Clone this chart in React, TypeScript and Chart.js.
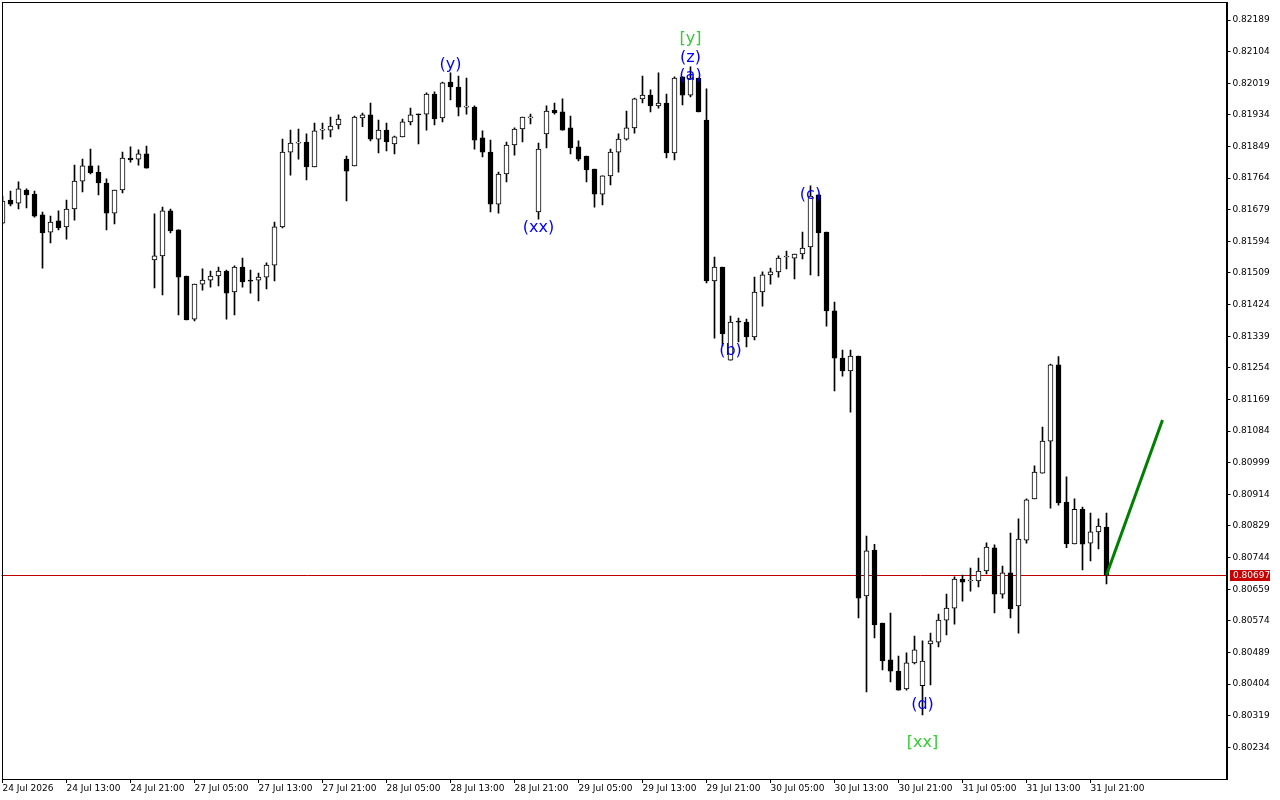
import React, { useEffect, useRef } from "react";
import { Chart, registerables } from "chart.js";

Chart.register(...registerables);

// Hourly candles, 24 Jul 2026 05:00 .. 31 Jul 2026 23:00 (weekend skipped)
const opens = [
  0.81643, 0.81705, 0.81697, 0.81732, 0.81721, 0.81665, 0.81619, 0.81649, 0.81633, 0.81681,
  0.81756, 0.81797, 0.81780, 0.81751, 0.81670, 0.81732, 0.81818, 0.81815, 0.81829, 0.81544,
  0.81555, 0.81676, 0.81625, 0.81501, 0.81385, 0.81479, 0.81490, 0.81501, 0.81514, 0.81458,
  0.81525, 0.81488, 0.81490, 0.81498, 0.81530, 0.81633, 0.81834, 0.81858, 0.81861, 0.81794,
  0.81893, 0.81893, 0.81907, 0.81815, 0.81797, 0.81926, 0.81934, 0.81869, 0.81893, 0.81856,
  0.81875, 0.81915, 0.81936, 0.81936, 0.81990, 0.81926, 0.82022, 0.82009, 0.81955, 0.81955,
  0.81872, 0.81834, 0.81694, 0.81775, 0.81853, 0.81896, 0.81926, 0.81673, 0.81883, 0.81947,
  0.81942, 0.81899, 0.81848, 0.81823, 0.81788, 0.81721, 0.81770, 0.81834, 0.81869, 0.81899,
  0.81977, 0.81987, 0.81958, 0.81966, 0.81832, 0.82036, 0.81987, 0.82033, 0.81920, 0.81488,
  0.81525, 0.81275, 0.81380, 0.81377, 0.81337, 0.81458, 0.81504, 0.81512, 0.81552, 0.81549,
  0.81560, 0.81579, 0.81719, 0.81619, 0.81407, 0.81280, 0.81246, 0.81286, 0.80641, 0.80764,
  0.80568, 0.80469, 0.80439, 0.80391, 0.80461, 0.80400, 0.80512, 0.80517, 0.80576, 0.80608,
  0.80686, 0.80681, 0.80681, 0.80708, 0.80770, 0.80646, 0.80703, 0.80614, 0.80791, 0.80902,
  0.80971, 0.81057, 0.81262, 0.80893, 0.80781, 0.80874, 0.80783, 0.80813, 0.80826,
];

const highs = [
  0.81716, 0.81729, 0.81754, 0.81735, 0.81729, 0.81673, 0.81662, 0.81676, 0.81705, 0.81799,
  0.81815, 0.81842, 0.81797, 0.81762, 0.81732, 0.81834, 0.81848, 0.81840, 0.81850, 0.81668,
  0.81686, 0.81681, 0.81625, 0.81501, 0.81479, 0.81520, 0.81514, 0.81525, 0.81517, 0.81528,
  0.81549, 0.81517, 0.81509, 0.81536, 0.81646, 0.81869, 0.81893, 0.81896, 0.81883, 0.81912,
  0.81912, 0.81928, 0.81934, 0.81823, 0.81931, 0.81939, 0.81966, 0.81920, 0.81912, 0.81877,
  0.81923, 0.81952, 0.81936, 0.81993, 0.81996, 0.82022, 0.82047, 0.82038, 0.82033, 0.81958,
  0.81891, 0.81866, 0.81780, 0.81861, 0.81899, 0.81928, 0.81936, 0.81858, 0.81958, 0.81966,
  0.81977, 0.81931, 0.81864, 0.81823, 0.81788, 0.81770, 0.81842, 0.81883, 0.81944, 0.81979,
  0.82038, 0.82001, 0.82047, 0.81990, 0.82036, 0.82036, 0.82063, 0.82033, 0.82004, 0.81552,
  0.81525, 0.81393, 0.81388, 0.81385, 0.81498, 0.81512, 0.81522, 0.81555, 0.81568, 0.81560,
  0.81619, 0.81743, 0.81719, 0.81619, 0.81431, 0.81302, 0.81302, 0.81286, 0.80802, 0.80780,
  0.80568, 0.80595, 0.80479, 0.80488, 0.80533, 0.80520, 0.80541, 0.80592, 0.80646, 0.80692,
  0.80697, 0.80716, 0.80743, 0.80784, 0.80778, 0.80721, 0.80810, 0.80848, 0.80902, 0.80991,
  0.81095, 0.81264, 0.81284, 0.80961, 0.80902, 0.80880, 0.80864, 0.80848, 0.80864,
];

const lows = [
  0.81641, 0.81689, 0.81681, 0.81684, 0.81659, 0.81522, 0.81590, 0.81625, 0.81600, 0.81651,
  0.81727, 0.81775, 0.81719, 0.81625, 0.81641, 0.81724, 0.81807, 0.81799, 0.81791, 0.81469,
  0.81450, 0.81617, 0.81396, 0.81383, 0.81380, 0.81463, 0.81471, 0.81474, 0.81385, 0.81396,
  0.81471, 0.81455, 0.81434, 0.81466, 0.81488, 0.81630, 0.81772, 0.81815, 0.81759, 0.81794,
  0.81869, 0.81875, 0.81896, 0.81703, 0.81797, 0.81902, 0.81864, 0.81832, 0.81837, 0.81829,
  0.81875, 0.81907, 0.81856, 0.81893, 0.81907, 0.81915, 0.81974, 0.81931, 0.81936, 0.81842,
  0.81821, 0.81673, 0.81670, 0.81754, 0.81826, 0.81861, 0.81910, 0.81654, 0.81845, 0.81936,
  0.81893, 0.81829, 0.81810, 0.81754, 0.81686, 0.81692, 0.81746, 0.81780, 0.81866, 0.81885,
  0.81966, 0.81942, 0.81952, 0.81818, 0.81813, 0.81961, 0.81982, 0.81942, 0.81482, 0.81334,
  0.81313, 0.81275, 0.81324, 0.81310, 0.81329, 0.81420, 0.81479, 0.81498, 0.81520, 0.81493,
  0.81547, 0.81504, 0.81501, 0.81366, 0.81192, 0.81232, 0.81135, 0.80582, 0.80383, 0.80528,
  0.80442, 0.80410, 0.80388, 0.80388, 0.80458, 0.80321, 0.80402, 0.80504, 0.80536, 0.80565,
  0.80627, 0.80654, 0.80665, 0.80700, 0.80595, 0.80635, 0.80582, 0.80541, 0.80783, 0.80902,
  0.80971, 0.80877, 0.80885, 0.80771, 0.80781, 0.80711, 0.80735, 0.80767, 0.80673,
];

const closes = [
  0.81702, 0.81694, 0.81735, 0.81719, 0.81662, 0.81617, 0.81646, 0.81630, 0.81681, 0.81756,
  0.81797, 0.81778, 0.81751, 0.81670, 0.81732, 0.81818, 0.81813, 0.81829, 0.81791, 0.81555,
  0.81676, 0.81622, 0.81498, 0.81383, 0.81479, 0.81490, 0.81501, 0.81514, 0.81455, 0.81525,
  0.81485, 0.81487, 0.81498, 0.81530, 0.81633, 0.81834, 0.81858, 0.81858, 0.81794, 0.81891,
  0.81893, 0.81904, 0.81923, 0.81783, 0.81928, 0.81934, 0.81869, 0.81893, 0.81861, 0.81875,
  0.81915, 0.81934, 0.81934, 0.81990, 0.81923, 0.82020, 0.82009, 0.81955, 0.81955, 0.81866,
  0.81834, 0.81694, 0.81775, 0.81853, 0.81896, 0.81928, 0.81926, 0.81842, 0.81944, 0.81939,
  0.81893, 0.81845, 0.81815, 0.81786, 0.81721, 0.81770, 0.81834, 0.81869, 0.81899, 0.81977,
  0.81987, 0.81958, 0.81966, 0.81832, 0.82033, 0.81987, 0.82033, 0.81942, 0.81488, 0.81525,
  0.81345, 0.81377, 0.81377, 0.81337, 0.81458, 0.81504, 0.81512, 0.81549, 0.81552, 0.81560,
  0.81576, 0.81716, 0.81617, 0.81407, 0.81280, 0.81246, 0.81286, 0.80635, 0.80762, 0.80563,
  0.80466, 0.80439, 0.80388, 0.80461, 0.80496, 0.80466, 0.80520, 0.80576, 0.80608, 0.80686,
  0.80678, 0.80681, 0.80708, 0.80772, 0.80646, 0.80703, 0.80606, 0.80794, 0.80899, 0.80974,
  0.81057, 0.81262, 0.80891, 0.80781, 0.80874, 0.80780, 0.80813, 0.80829, 0.80697,
];

// total number of hourly slots shown (candles + empty space to the right)
const totalSlots = 154;

// bottom axis labels, one every 8 slots starting at slot 0
const xTickStep = 8;
const xTickLabels = [
  "24 Jul 2026", "24 Jul 13:00", "24 Jul 21:00", "27 Jul 05:00", "27 Jul 13:00",
  "27 Jul 21:00", "28 Jul 05:00", "28 Jul 13:00", "28 Jul 21:00", "29 Jul 05:00",
  "29 Jul 13:00", "29 Jul 21:00", "30 Jul 05:00", "30 Jul 13:00", "30 Jul 21:00",
  "31 Jul 05:00", "31 Jul 13:00", "31 Jul 21:00",
];

// right axis price ticks
const yTickValues = [
  0.82189, 0.82104, 0.82019, 0.81934, 0.81849, 0.81764, 0.81679, 0.81594, 0.81509, 0.81424,
  0.81339, 0.81254, 0.81169, 0.81084, 0.80999, 0.80914, 0.80829, 0.80744, 0.80659, 0.80574,
  0.80489, 0.80404, 0.80319, 0.80234,
];
const yMin = 0.801489;
const yMax = 0.822374;

const bidPrice = 0.80697;

// forecast segment
const forecastIndices = [138, 145];
const forecastPrices = [0.80697, 0.81114];

// wave labels
const BLUE = "#0000ff";
const GREEN = "#32cd32";
const labelTexts = ["(y)", "[y]", "(z)", "(a)", "(xx)", "(b)", "(c)", "(d)", "[xx]"];
const labelIndices = [56, 86, 86, 86, 67, 91, 101, 115, 115];
const labelPrices = [0.82068, 0.82138, 0.82087, 0.82038, 0.8163, 0.81299, 0.81719, 0.80348, 0.80246];
const labelColors = [BLUE, GREEN, BLUE, BLUE, BLUE, BLUE, BLUE, BLUE, GREEN];

const AXIS_FONT = { family: "'DejaVu Sans', sans-serif", size: 9 };

export default function App() {
  const canvasRef = useRef<HTMLCanvasElement | null>(null);

  useEffect(() => {
    const canvas = canvasRef.current;
    if (!canvas) return;

    const slots = Array.from({ length: totalSlots }, (_, i) => i);
    const bodyData = opens.map((o, i) => [o, closes[i]]);
    const wickData = lows.map((l, i) => [l, highs[i]]);
    const lineData = slots.map((i) => {
      const k = forecastIndices.indexOf(i);
      return k >= 0 ? forecastPrices[k] : null;
    });

    const overlay = {
      id: "overlay",
      beforeDatasetsDraw(chart: any) {
        const { ctx, chartArea, scales } = chart;
        const y = Math.round(scales.y.getPixelForValue(bidPrice)) + 0.5;
        ctx.save();
        ctx.strokeStyle = "#c00000";
        ctx.lineWidth = 1;
        ctx.beginPath();
        ctx.moveTo(chartArea.left - 1, y);
        ctx.lineTo(chartArea.right, y);
        ctx.stroke();
        ctx.restore();
      },
      afterDatasetsDraw(chart: any) {
        const { ctx, scales } = chart;
        ctx.save();
        ctx.font = "16px 'DejaVu Sans', sans-serif";
        ctx.textAlign = "center";
        ctx.textBaseline = "middle";
        labelTexts.forEach((t, i) => {
          ctx.fillStyle = labelColors[i];
          ctx.fillText(
            t,
            scales.x.getPixelForValue(labelIndices[i]),
            scales.y.getPixelForValue(labelPrices[i])
          );
        });
        ctx.restore();
      },
      afterDraw(chart: any) {
        const { ctx, chartArea, scales } = chart;
        const left = Math.floor(chartArea.left);
        const top = Math.floor(chartArea.top);
        const right = Math.round(chartArea.right);
        const bottom = Math.round(chartArea.bottom);
        ctx.save();
        ctx.fillStyle = "#000";
        ctx.fillRect(left, top, right - left, 1);
        ctx.fillRect(left, top, 1, bottom - top);
        ctx.fillRect(left, bottom, right - left, 1);
        ctx.fillRect(right - 1, top, 2, bottom - top + 1);
        // price tag
        const y = Math.round(scales.y.getPixelForValue(bidPrice));
        ctx.fillStyle = "#c80000";
        ctx.fillRect(right + 3, y - 5, 40, 11);
        ctx.fillStyle = "#ffffff";
        ctx.font = "9px 'DejaVu Sans', sans-serif";
        ctx.textAlign = "left";
        ctx.textBaseline = "middle";
        ctx.fillText(bidPrice.toFixed(5), right + 6, y + 0.5);
        ctx.restore();
      },
    };

    const chart = new Chart(canvas, {
      type: "bar",
      data: {
        labels: slots,
        datasets: [
          {
            type: "line",
            data: lineData,
            borderColor: "#008000",
            borderWidth: 3,
            pointRadius: 0,
            spanGaps: true,
            order: 0,
          } as any,
          {
            type: "bar",
            data: bodyData,
            backgroundColor: (c: any) =>
              closes[c.dataIndex] < opens[c.dataIndex] ? "#000000" : "#ffffff",
            borderColor: "#000000",
            borderWidth: 1,
            borderSkipped: false,
            barThickness: 5,
            minBarLength: 1,
            grouped: false,
            order: 1,
          } as any,
          {
            type: "bar",
            data: wickData,
            backgroundColor: "#000000",
            borderWidth: 0,
            barThickness: 1,
            grouped: false,
            order: 2,
          } as any,
        ],
      },
      options: {
        animation: false,
        responsive: true,
        maintainAspectRatio: false,
        devicePixelRatio: 1,
        events: [],
        layout: { padding: { left: 2.5, top: 2, right: 0, bottom: 0 } },
        plugins: { legend: { display: false }, tooltip: { enabled: false } },
        scales: {
          x: {
            type: "category",
            offset: false,
            grid: {
              display: true,
              offset: false,
              drawOnChartArea: false,
              drawTicks: true,
              tickLength: 4,
              color: "#000000",
            },
            border: { display: false },
            afterBuildTicks: (s: any) => {
              s.ticks = xTickLabels.map((_, k) => ({ value: k * xTickStep }));
            },
            ticks: {
              autoSkip: false,
              maxRotation: 0,
              minRotation: 0,
              align: "start",
              padding: 0,
              color: "#000000",
              font: AXIS_FONT,
              callback: (v: any) => xTickLabels[Math.round(Number(v) / xTickStep)] ?? "",
            },
            afterFit: (s: any) => {
              s.height = 21;
              s.paddingLeft = 0;
              s.paddingRight = 0;
            },
          } as any,
          y: {
            position: "right",
            min: yMin,
            max: yMax,
            afterBuildTicks: (s: any) => {
              s.ticks = yTickValues.map((v) => ({ value: v }));
            },
            grid: {
              drawOnChartArea: false,
              drawTicks: true,
              tickLength: 4,
              color: "#000000",
            },
            border: { display: false },
            ticks: {
              padding: 2,
              color: "#000000",
              font: AXIS_FONT,
              callback: (v: any) => Number(v).toFixed(5),
            },
            afterFit: (s: any) => {
              s.width = 53.5;
              s.paddingTop = 0;
              s.paddingBottom = 0;
            },
          } as any,
        },
      },
      plugins: [overlay],
    });

    return () => chart.destroy();
  }, []);

  return (
    <div
      style={{
        position: "absolute",
        left: 0,
        top: 0,
        width: 1280,
        height: 800,
        background: "#ffffff",
      }}
    >
      <canvas ref={canvasRef} />
    </div>
  );
}
